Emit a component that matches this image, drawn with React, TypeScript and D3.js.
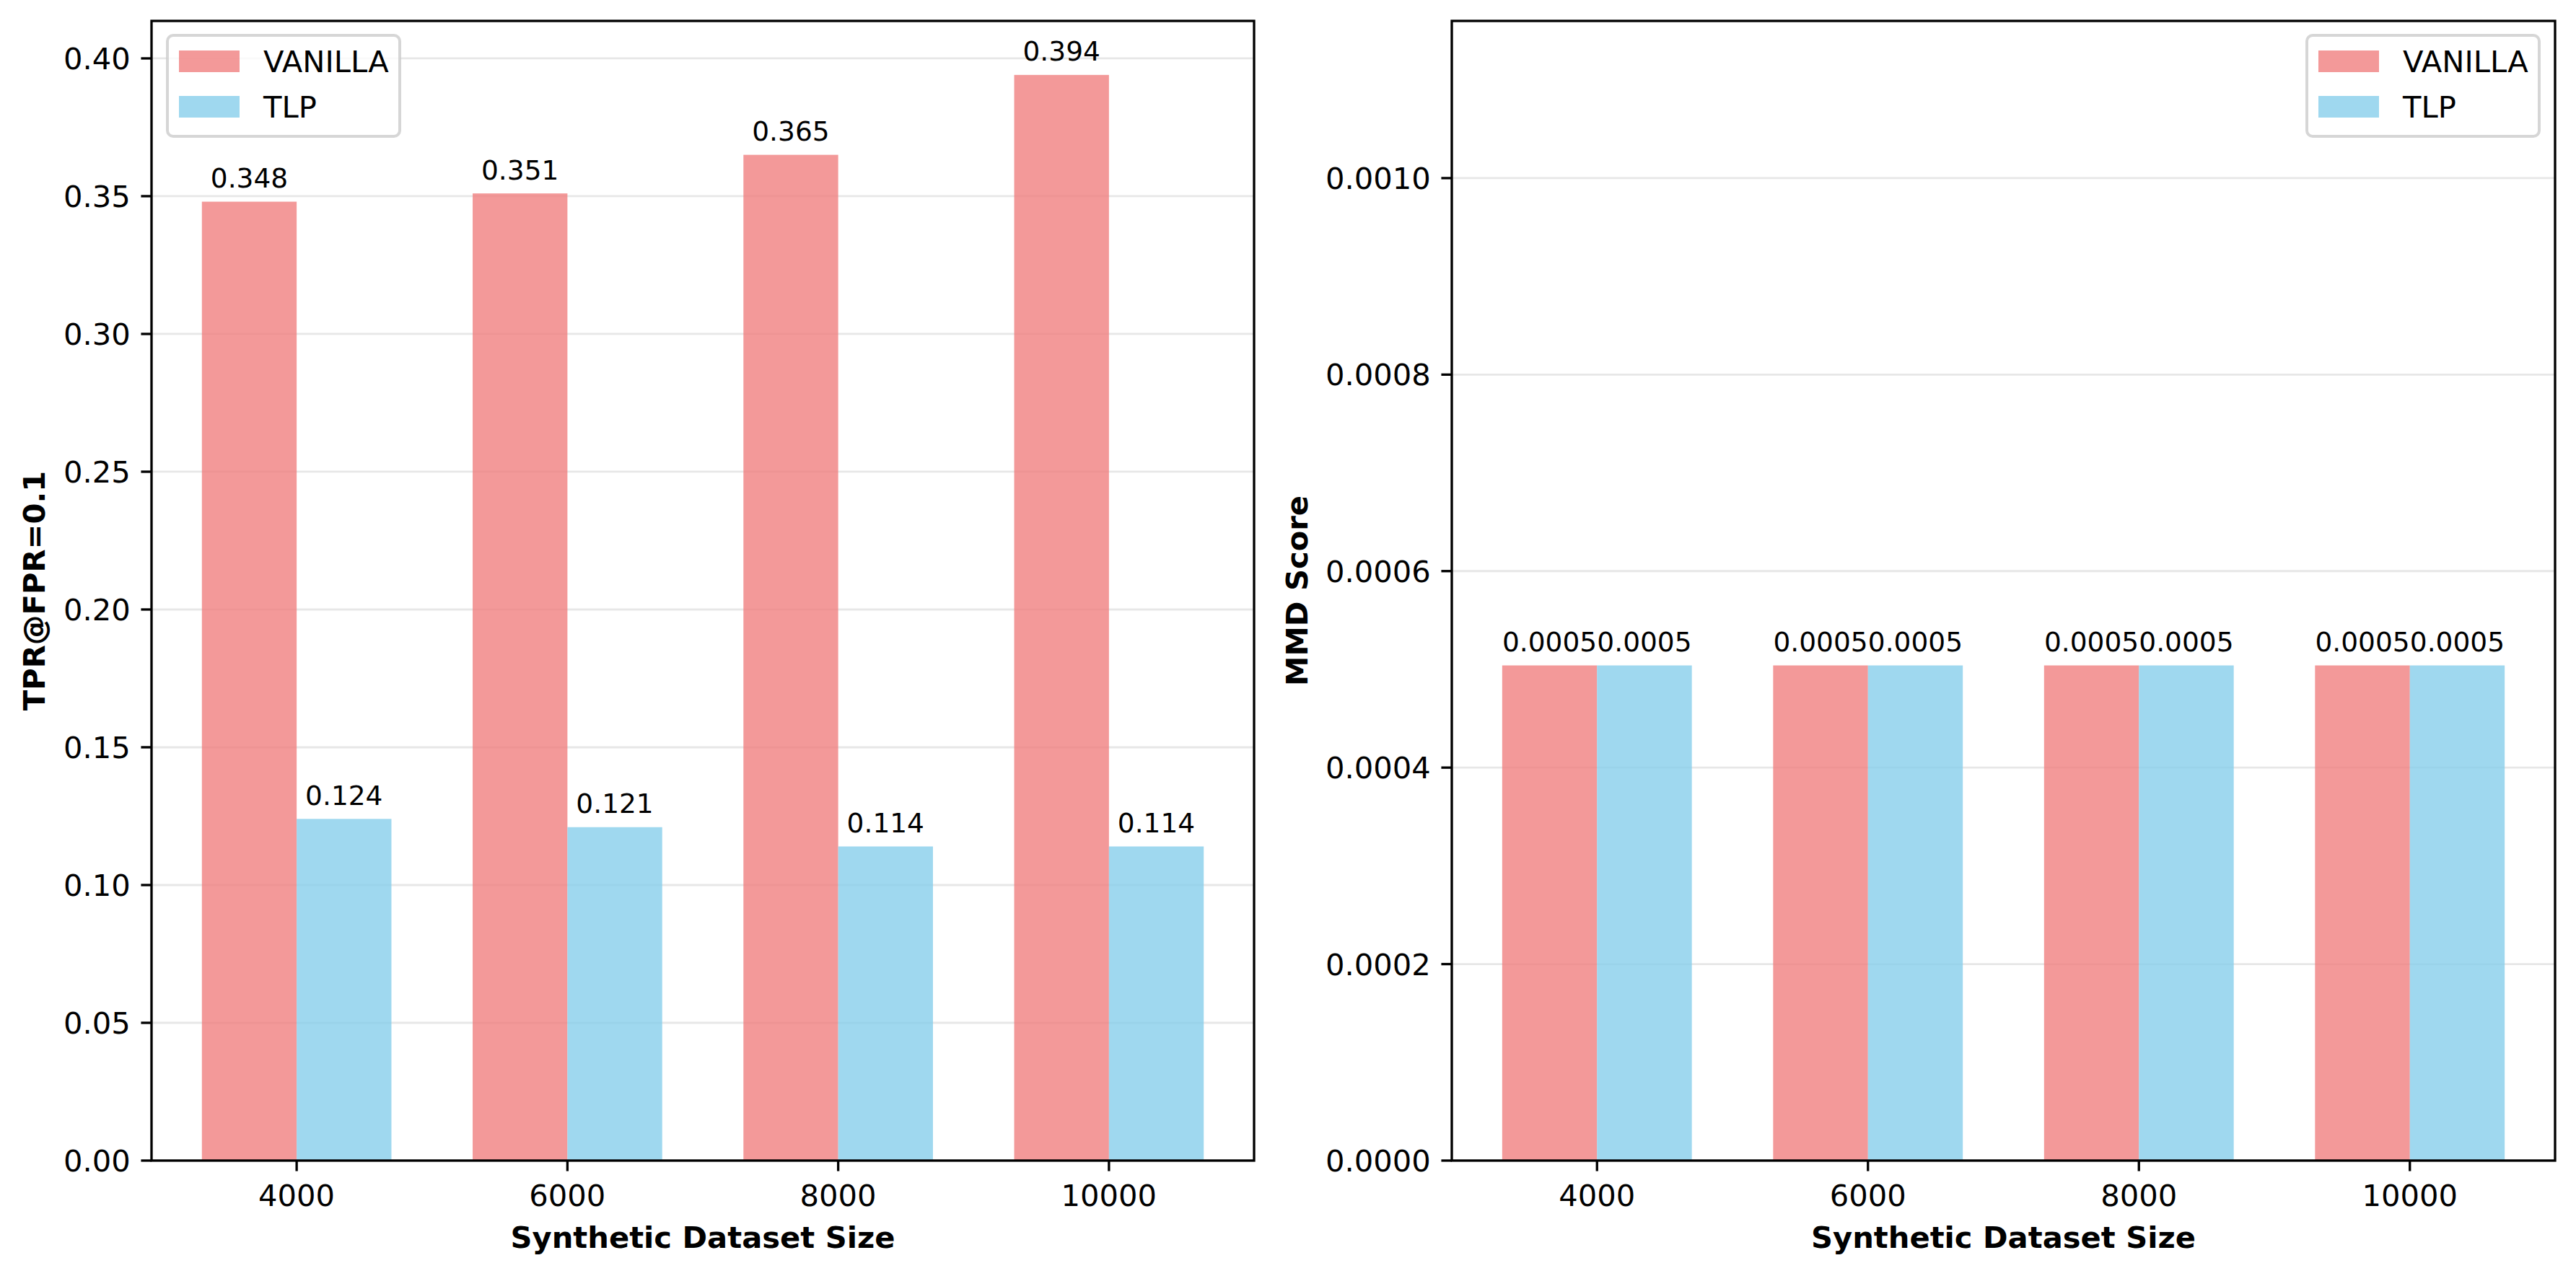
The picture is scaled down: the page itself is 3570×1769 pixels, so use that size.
import React, { useEffect } from "react";
import * as d3 from "d3";

// ---- data ----
const categories = ["4000", "6000", "8000", "10000"];
const seriesNames = ["VANILLA", "TLP"];

const vanillaTpr = [0.348, 0.351, 0.365, 0.394];
const tlpTpr = [0.124, 0.121, 0.114, 0.114];

const vanillaMmd = [0.000504, 0.000504, 0.000504, 0.000504];
const tlpMmd = [0.000504, 0.000504, 0.000504, 0.000504];

const tprTicks = [0, 0.05, 0.1, 0.15, 0.2, 0.25, 0.3, 0.35, 0.4];
const mmdTicks = [0, 0.0002, 0.0004, 0.0006, 0.0008, 0.001];

const W = 3570;
const H = 1769;
const PT = 300 / 72;
const FONT = "DejaVu Sans";
const TICK_FS = 10 * PT;
const LABEL_FS = 9 * PT;
const SPINE = 0.8 * PT;
const TICK_LEN = 3.5 * PT;
const BAR_W = 0.35;

const colors = ["#f08080", "#87ceeb"];

type PanelProps = {
  left: number;
  right: number;
  yMax: number;
  series: number[][];
  yTicks: number[];
  tickDigits: number;
  labelDigits: number;
  yLabel: string;
  yLabelX: number;
  legendSide: "left" | "right";
};

const TOP = 29;
const BOTTOM = 1609;

const Panel: React.FC<PanelProps> = ({
  left,
  right,
  yMax,
  series,
  yTicks,
  tickDigits,
  labelDigits,
  yLabel,
  yLabelX,
  legendSide,
}) => {
  const x = d3.scaleLinear().domain([-0.536, categories.length - 1 + 0.536]).range([left, right]);
  const y = d3.scaleLinear().domain([0, yMax]).range([BOTTOM, TOP]);

  const legendW = 322;
  const legendX = legendSide === "left" ? left + 22 : right - 22 - legendW;
  const legendY = 49;

  return (
    <g fontFamily={FONT}>
      {/* grid */}
      {yTicks.map((t) => (
        <line
          key={"g" + t}
          x1={left}
          x2={right}
          y1={y(t)}
          y2={y(t)}
          stroke="#b0b0b0"
          strokeOpacity={0.3}
          strokeWidth={2.8}
        />
      ))}

      {/* bars */}
      {series.map((vals, si) =>
        vals.map((v, i) => {
          const x0 = x(i + (si - 1) * BAR_W);
          const x1 = x(i + si * BAR_W);
          return (
            <g key={`b${si}-${i}`}>
              <rect
                x={x0}
                y={y(v)}
                width={x1 - x0}
                height={y(0) - y(v)}
                fill={colors[si]}
                fillOpacity={0.8}
              />
              <text
                x={(x0 + x1) / 2}
                y={y(v) - 19.5}
                fontSize={LABEL_FS}
                textAnchor="middle"
              >
                {v.toFixed(labelDigits)}
              </text>
            </g>
          );
        })
      )}

      {/* spines */}
      <rect
        x={left}
        y={TOP}
        width={right - left}
        height={BOTTOM - TOP}
        fill="none"
        stroke="#000"
        strokeWidth={SPINE}
      />

      {/* y ticks */}
      {yTicks.map((t) => (
        <g key={"y" + t}>
          <line x1={left - TICK_LEN} x2={left} y1={y(t)} y2={y(t)} stroke="#000" strokeWidth={SPINE} />
          <text
            x={left - TICK_LEN - 3.5 * PT}
            y={y(t)}
            dy={15}
            fontSize={TICK_FS}
            textAnchor="end"
          >
            {t.toFixed(tickDigits)}
          </text>
        </g>
      ))}

      {/* x ticks */}
      {categories.map((c, i) => (
        <g key={"x" + c}>
          <line x1={x(i)} x2={x(i)} y1={BOTTOM} y2={BOTTOM + TICK_LEN} stroke="#000" strokeWidth={SPINE} />
          <text x={x(i)} y={1672} fontSize={TICK_FS} textAnchor="middle">
            {c}
          </text>
        </g>
      ))}

      {/* axis labels */}
      <text
        x={(left + right) / 2}
        y={1730}
        fontSize={TICK_FS}
        fontWeight="bold"
        textAnchor="middle"
      >
        Synthetic Dataset Size
      </text>
      <text
        transform={`translate(${yLabelX},${(TOP + BOTTOM) / 2}) rotate(-90)`}
        fontSize={TICK_FS}
        fontWeight="bold"
        textAnchor="middle"
      >
        {yLabel}
      </text>

      {/* legend */}
      <rect
        x={legendX}
        y={legendY}
        width={legendW}
        height={140}
        rx={8}
        fill="#fff"
        fillOpacity={0.8}
        stroke="#cccccc"
        strokeOpacity={0.8}
        strokeWidth={4}
      />
      {seriesNames.map((name, i) => (
        <g key={"l" + name} transform={`translate(${legendX + 16},${70 + i * 63})`}>
          <rect width={84} height={30} fill={colors[i]} fillOpacity={0.8} />
          <text x={117} y={30} fontSize={TICK_FS}>
            {name}
          </text>
        </g>
      ))}
    </g>
  );
};

export default function App() {
  useEffect(() => {
    document.body.style.margin = "0";
  }, []);

  return (
    <svg width={W} height={H} style={{ display: "block", background: "#fff" }}>
      <rect width={W} height={H} fill="#fff" />
      <Panel
        left={210}
        right={1738}
        yMax={0.4136}
        series={[vanillaTpr, tlpTpr]}
        yTicks={tprTicks}
        tickDigits={2}
        labelDigits={3}
        yLabel="TPR@FPR=0.1"
        yLabelX={62}
        legendSide="left"
      />
      <Panel
        left={2012}
        right={3541}
        yMax={0.00116}
        series={[vanillaMmd, tlpMmd]}
        yTicks={mmdTicks}
        tickDigits={4}
        labelDigits={4}
        yLabel="MMD Score"
        yLabelX={1812}
        legendSide="right"
      />
    </svg>
  );
}
